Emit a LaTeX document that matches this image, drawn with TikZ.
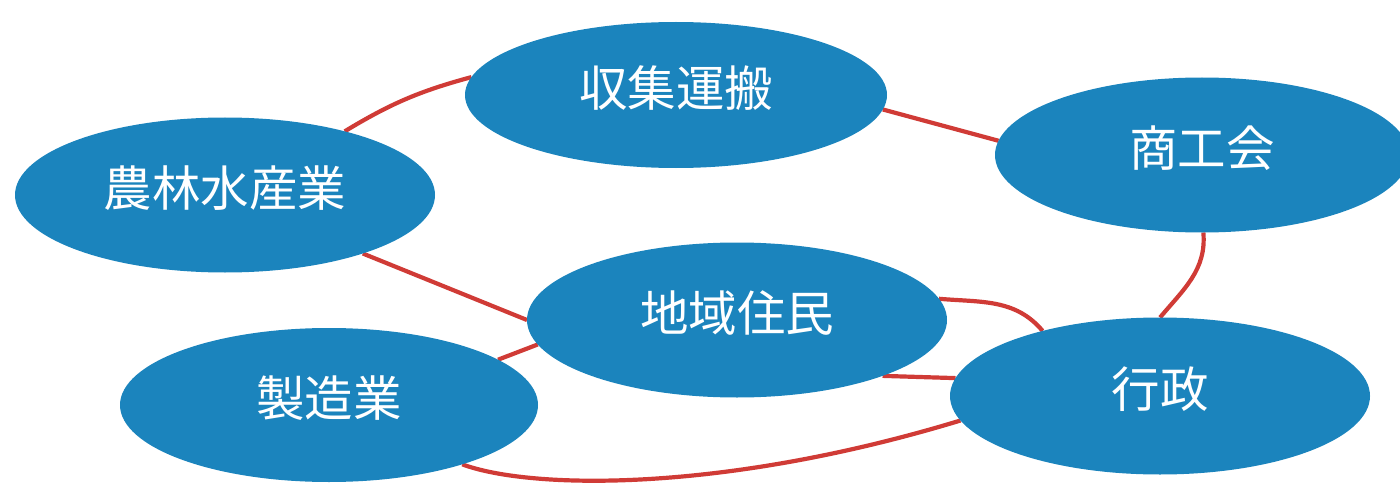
\documentclass[tikz,border=0pt]{standalone}
\usepackage{fontspec}
\newfontfamily\jp{Noto Sans CJK JP}
\usetikzlibrary{shapes.geometric,backgrounds}
\definecolor{nodeblue}{HTML}{1B84BD}
\definecolor{linkred}{HTML}{D03B36}
\begin{document}
\begin{tikzpicture}[x=1pt,y=1pt,
  bubble/.style={ellipse,fill=nodeblue,draw=none,inner sep=0pt,outer sep=0pt,
    text=white,text height=40pt,text depth=17pt,font=\jp\fontsize{48.5}{52}\selectfont},
  link/.style={draw=linkred,line width=4.2pt}]
\useasboundingbox (0,0) rectangle (1400,483);
\node[bubble,minimum width=422,minimum height=146] (A) at (676,388) {収集運搬};
\node[bubble,minimum width=414,minimum height=155] (B) at (1202,328) {商工会};
\node[bubble,minimum width=420,minimum height=155] (C) at (225,288) {農林水産業};
\node[bubble,minimum width=420,minimum height=155] (D) at (737,163) {地域住民};
\node[bubble,minimum width=418,minimum height=154] (E) at (329,78) {製造業};
\node[bubble,minimum width=420,minimum height=157] (F) at (1160,87) {行政};
\begin{pgfonlayer}{background}
\draw[link] (C.28) to[bend left=8] (A.175);
\draw[link] (A.-4) -- (B.176);
\draw[link] (B.-89) to[out=-85,in=50] (F.90);
\draw[link] (C.-23) -- (D.180);
\draw[link] (D.6) to[out=-5,in=130] (F.151);
\draw[link] (D.-21) -- (F.175);
\draw[link] (E.15) -- (D.187);
\draw[link] (E.-24) .. controls +(67,-25) and +(-240,-73) .. (F.187);
\end{pgfonlayer}
\end{tikzpicture}
\end{document}
